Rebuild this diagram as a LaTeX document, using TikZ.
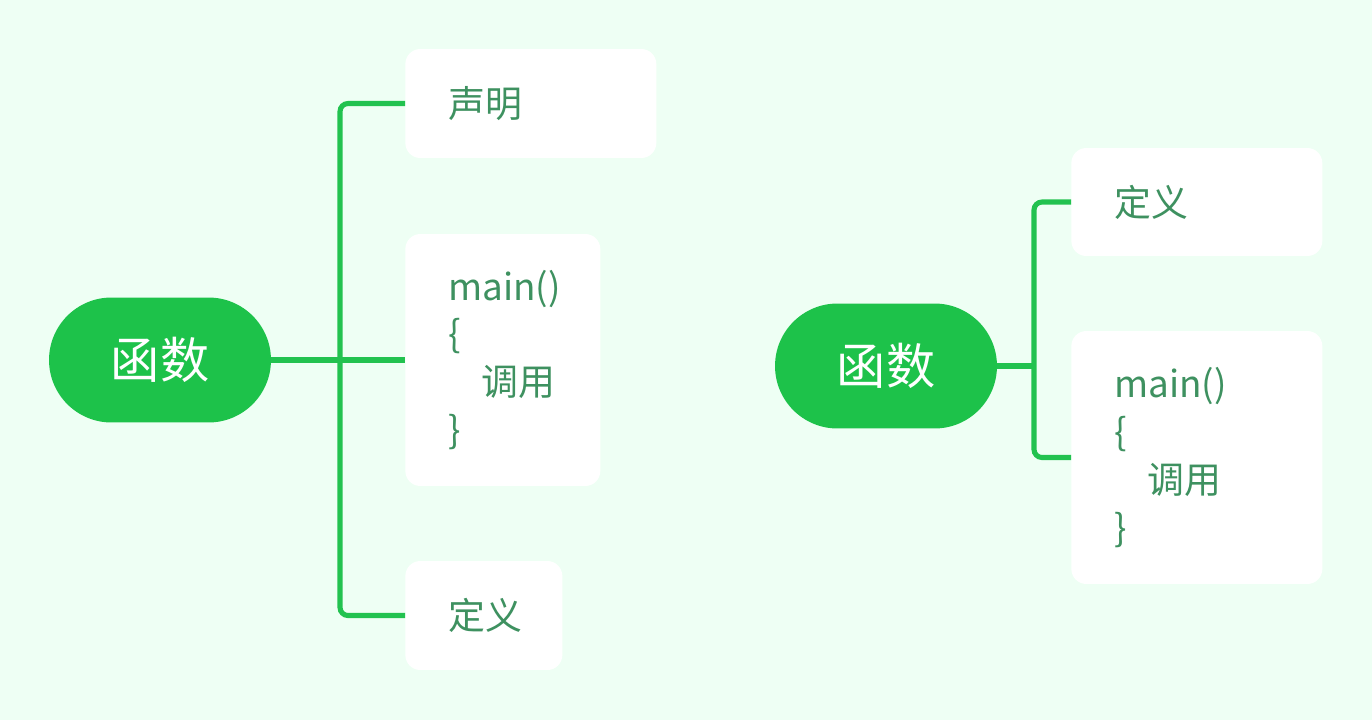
\documentclass[tikz,border=0pt]{standalone}
\usepackage{fontspec}
\setmainfont{Noto Sans CJK SC}
\usetikzlibrary{positioning}
\definecolor{mbg}{HTML}{EEFFF4}
\definecolor{mgreen}{HTML}{1DC24A}
\definecolor{mline}{HTML}{22C24F}
\definecolor{mtext}{HTML}{3E9160}

\begin{document}
\begin{tikzpicture}[x=0.02cm,y=-0.02cm,every node/.style={font=\fontsize{21}{27.3}\selectfont,align=left},pill/.style={fill=mgreen,text=white,rounded corners=1.25cm,minimum width=4.44cm,minimum height=2.5cm,inner sep=0pt,font=\fontsize{28}{32}\selectfont},card/.style={fill=white,text=mtext,rounded corners=0.3cm,inner xsep=0.86cm,anchor=west},link/.style={mline,line width=2.9pt,rounded corners=0.16cm}]
\useasboundingbox[fill=mbg] (0,0) rectangle (1372,720);
% left map
\node[pill] (f1) at (160,360) {函数};
\node[card,minimum width=5.02cm,minimum height=2.18cm,text width=3.3cm] (b1) at (405,103.5) {声明};
\node[card,minimum width=3.9cm,minimum height=5.04cm,text width=2.18cm] (b2) at (405,360) {main()\\\{\\\hspace{0.66cm}调用\\\}};
\node[card,minimum width=3.14cm,minimum height=2.18cm,text width=1.42cm] (b3) at (405,615.5) {定义};
\coordinate (t1) at (340,360);
\draw[link] (f1.east) -- (b2.west);
\draw[link] (b1.west) -| (t1) |- (b3.west);
% right map
\node[pill] (f2) at (886,366) {函数};
\node[card,minimum width=5.02cm,minimum height=2.16cm,text width=3.3cm] (c1) at (1071,202) {定义};
\node[card,minimum width=5.02cm,minimum height=5.06cm,text width=3.3cm] (c2) at (1071,457.5) {main()\\\{\\\hspace{0.66cm}调用\\\}};
\coordinate (t2) at (1034,366);
\draw[link] (f2.east) -- (t2);
\draw[link] (c1.west) -| (t2) |- (c2.west);
\end{tikzpicture}
\end{document}
